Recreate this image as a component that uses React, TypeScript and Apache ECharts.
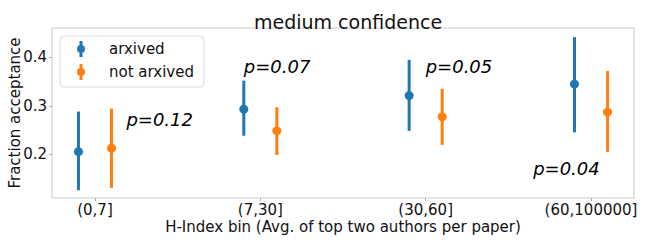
import React, { useEffect, useRef } from "react";
import * as echarts from "echarts";

const categories = ["(0,7]", "(7,30]", "(30,60]", "(60,100000]"];
const arxivedMean = [0.205, 0.293, 0.321, 0.345];
const arxivedLow = [0.125, 0.238, 0.248, 0.245];
const arxivedHigh = [0.288, 0.352, 0.395, 0.442];
const notArxivedMean = [0.212, 0.248, 0.277, 0.287];
const notArxivedLow = [0.130, 0.198, 0.219, 0.204];
const notArxivedHigh = [0.294, 0.297, 0.335, 0.372];
const pLabels = ["p=0.12", "p=0.07", "p=0.05", "p=0.04"];
const pLabelX = [0.19, 0.9, 2.0, 2.65];
const pLabelY = [0.271, 0.381, 0.381, 0.171];
const yTicks = [0.2, 0.3, 0.4];
const xTicks = [0, 1, 2, 3];

const BLUE = "#1f77b4";
const ORANGE = "#ff7f0e";
const FONT = "DejaVu Sans";
const OFFSET = 0.1;
const ICON = "path://M3.5,0H6.5V16H3.5Z M1,8A4,4 0 1,1 9,8A4,4 0 1,1 1,8Z";

function errorSeries(name: string, color: string, off: number, lo: number[], hi: number[]) {
  return {
    name,
    type: "custom",
    z: 2,
    itemStyle: { color },
    data: categories.map((_, i) => [i + off, lo[i], hi[i]]),
    encode: { x: 0, y: [1, 2] },
    renderItem: (_params: any, api: any) => {
      const x = api.value(0);
      const p1 = api.coord([x, api.value(1)]);
      const p2 = api.coord([x, api.value(2)]);
      return {
        type: "line",
        shape: { x1: p1[0], y1: p1[1], x2: p2[0], y2: p2[1] },
        style: { stroke: color, lineWidth: 3 },
      };
    },
  };
}

function pointSeries(name: string, color: string, off: number, mean: number[]) {
  return {
    name,
    type: "scatter",
    z: 3,
    symbol: "circle",
    symbolSize: 9,
    itemStyle: { color, opacity: 1 },
    data: categories.map((_, i) => [i + off, mean[i]]),
  };
}

export default function App() {
  const ref = useRef<HTMLDivElement>(null);
  useEffect(() => {
    if (!ref.current) return;
    const chart = echarts.init(ref.current, null, { renderer: "svg" });
    chart.setOption({
      animation: false,
      textStyle: { fontFamily: FONT },
      title: {
        text: "medium confidence",
        left: 343,
        textAlign: "center",
        top: 7,
        textStyle: { fontFamily: FONT, fontSize: 19, fontWeight: "normal", color: "#111" },
      },
      legend: {
        left: 60,
        top: 36,
        orient: "vertical",
        padding: [5, 10, 7, 17],
        itemGap: 7,
        itemWidth: 10,
        itemHeight: 16,
        backgroundColor: "#fff",
        borderColor: "#dcdcdc",
        borderWidth: 1,
        borderRadius: 4,
        selectedMode: false,
        textStyle: { fontFamily: FONT, fontSize: 15, color: "#111", padding: [0, 0, 0, 18] },
        data: [
          { name: "arxived", icon: ICON },
          { name: "not arxived", icon: ICON },
        ],
      },
      grid: {
        left: 52,
        right: 16,
        top: 28,
        bottom: 42,
        show: true,
        borderColor: "#cccccc",
        borderWidth: 1,
        containLabel: false,
        outerBoundsMode: "none",
      },
      xAxis: {
        type: "value",
        min: -0.26,
        max: 3.26,
        name: "H-Index bin (Avg. of top two authors per paper)",
        nameLocation: "middle",
        nameGap: 21,
        nameMoveOverlap: false,
        nameTextStyle: { fontFamily: FONT, fontSize: 15, color: "#111" },
        axisLine: { show: false, onZero: false },
        splitLine: { show: false },
        axisTick: { show: true, customValues: xTicks, length: 3, lineStyle: { color: "#aaa" } },
        axisLabel: {
          customValues: xTicks,
          fontFamily: FONT,
          fontSize: 15,
          color: "#111",
          margin: 4,
          formatter: (v: number) => categories[Math.round(v)] ?? "",
        },
      },
      yAxis: {
        type: "value",
        min: 0.109,
        max: 0.461,
        name: "Fraction acceptance",
        nameLocation: "middle",
        nameGap: 30,
        nameMoveOverlap: false,
        nameTextStyle: { fontFamily: FONT, fontSize: 15, color: "#111" },
        axisLine: { show: false, onZero: false },
        splitLine: { show: false },
        axisTick: { show: true, customValues: yTicks, length: 3, lineStyle: { color: "#aaa" } },
        axisLabel: {
          customValues: yTicks,
          fontFamily: FONT,
          fontSize: 15,
          color: "#111",
          margin: 5,
          formatter: (v: number) => v.toFixed(1),
        },
      },
      series: [
        errorSeries("arxived", BLUE, -OFFSET, arxivedLow, arxivedHigh),
        errorSeries("not arxived", ORANGE, OFFSET, notArxivedLow, notArxivedHigh),
        pointSeries("arxived", BLUE, -OFFSET, arxivedMean),
        pointSeries("not arxived", ORANGE, OFFSET, notArxivedMean),
        {
          name: "p-values",
          type: "scatter",
          z: 4,
          symbolSize: 0,
          silent: true,
          itemStyle: { opacity: 1 },
          data: pLabels.map((t, i) => ({ value: [pLabelX[i], pLabelY[i]], name: t })),
          label: {
            show: true,
            position: "right",
            distance: 0,
            formatter: (p: any) => p.name,
            fontFamily: FONT,
            fontSize: 18,
            fontStyle: "italic",
            color: "#000",
            opacity: 1,
          },
        },
      ],
    });
    return () => chart.dispose();
  }, []);
  return (
    <div
      ref={ref}
      style={{ position: "fixed", left: 0, top: 0, width: 650, height: 240, background: "#fff" }}
    />
  );
}
